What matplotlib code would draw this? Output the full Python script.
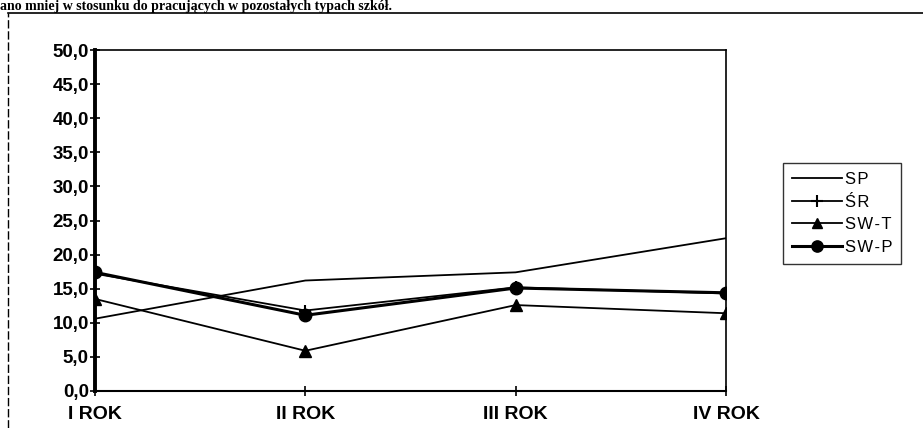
import numpy as np
import matplotlib
matplotlib.use('Agg')
import matplotlib.pyplot as plt
from matplotlib.lines import Line2D

years = ['I ROK', 'II ROK', 'III ROK', 'IV ROK']
series_names = ['SP', 'ŚR', 'SW-T', 'SW-P']

sp = [10.6, 16.2, 17.4, 22.4]
sr = [17.2, 11.8, 15.2, 14.3]
sw_t = [13.5, 5.9, 12.6, 11.4]
sw_p = [17.4, 11.1, 15.1, 14.4]

yticks = np.arange(0, 50.1, 5)
ytick_labels = [('%.1f' % v).replace('.', ',') for v in yticks]

plt.rcParams['font.family'] = ['Liberation Sans', 'DejaVu Sans']

fig = plt.figure(figsize=(9.23, 4.28), dpi=100)
ax = fig.add_axes([95/923, 37/428, 631/923, 341/428])

x = np.arange(len(years))
# spaced-out legend labels like the scan
spaced = ['\u200a'.join(list(n)) for n in series_names]

ax.plot(x, sp, color='black', linewidth=1.3, label=spaced[0])
ax.plot(x, sr, color='black', linewidth=1.3, marker='+', markersize=9,
        markeredgewidth=1.5, label=spaced[1])
ax.plot(x, sw_t, color='black', linewidth=1.3, marker='^', markersize=8,
        label=spaced[2])
ax.plot(x, sw_p, color='black', linewidth=2.2, marker='o', markersize=9,
        label=spaced[3])

ax.set_xlim(0, 3)
ax.set_ylim(0, 50)
ax.set_yticks(yticks)
ax.set_yticklabels(ytick_labels, fontsize=13.5, fontweight='bold')
ax.set_xticks(x)
ax.set_xticklabels(years, fontsize=14, fontweight='bold')
ax.tick_params(axis='both', direction='inout', length=7, width=1.2, pad=1)
ax.tick_params(axis='x', pad=7)
for s in ax.spines.values():
    s.set_linewidth(1.2)
ax.spines['left'].set_linewidth(2.8)
ax.spines['bottom'].set_linewidth(1.5)

leg = fig.legend(handles=ax.get_lines(), loc='upper left',
                 bbox_to_anchor=(783/923, 1 - 163/428), fontsize=12,
                 frameon=True, fancybox=False, edgecolor='black',
                 handlelength=3.0, handletextpad=0.15, labelspacing=0.45,
                 borderpad=0.55, borderaxespad=0, markerscale=0.9)
leg.get_frame().set_linewidth(1.0)

# outer border of the scanned chart
fig.add_artist(Line2D([8/923, 1], [1 - 13/428, 1 - 13/428],
                      transform=fig.transFigure, color='black', linewidth=1.2))
fig.add_artist(Line2D([8/923, 8/923], [0, 1 - 13/428],
                      transform=fig.transFigure, color='black', linewidth=1.0,
                      linestyle=(0, (6, 2))))

# caption line above the chart
fig.text(0.0, 1 - 10/428,
         'ano mniej w stosunku do pracujących w pozostałych typach szkół.',
         family=['Liberation Serif', 'DejaVu Serif'], fontweight='bold',
         fontsize=10, va='baseline', ha='left')

fig.savefig('out.png', dpi=100)
